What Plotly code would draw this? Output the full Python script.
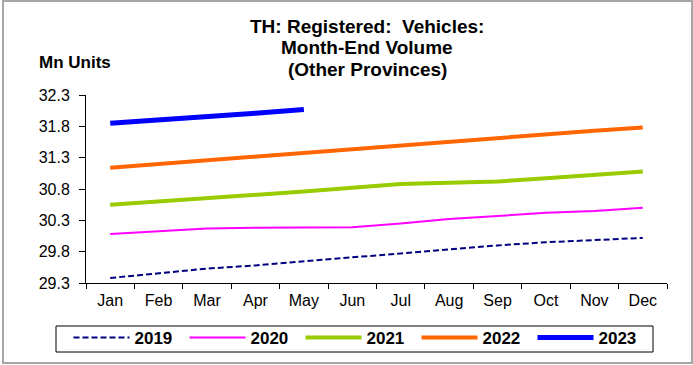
import plotly.graph_objects as go

# Month-end registered vehicles, other provinces (million units)
months = ["Jan", "Feb", "Mar", "Apr", "May", "Jun",
          "Jul", "Aug", "Sep", "Oct", "Nov", "Dec"]

v2019 = [29.38, 29.45, 29.53, 29.58, 29.65, 29.71,
         29.77, 29.84, 29.90, 29.95, 29.98, 30.02]
v2020 = [30.08, 30.13, 30.17, 30.18, 30.18, 30.19,
         30.25, 30.32, 30.37, 30.42, 30.45, 30.50]
v2021 = [30.55, 30.60, 30.65, 30.71, 30.76, 30.82,
         30.88, 30.90, 30.92, 30.97, 31.02, 31.08]
v2022 = [31.14, 31.20, 31.26, 31.31, 31.37, 31.44,
         31.50, 31.56, 31.61, 31.67, 31.73, 31.78]
v2023 = [31.85, 31.90, 31.96, 32.01, 32.07]

title_lines = ["TH: Registered:\u00a0 Vehicles:", "Month-End Volume", "(Other Provinces)"]

FONT = "Liberation Sans, Arial, sans-serif"

series = [
    ("2019", v2019, dict(color="#000080", width=2, dash="6px,3px")),
    ("2020", v2020, dict(color="#FF00FF", width=2)),
    ("2021", v2021, dict(color="#99CC00", width=4)),
    ("2022", v2022, dict(color="#FF6600", width=4)),
    ("2023", v2023, dict(color="#0000FF", width=5)),
]

FIG_W, FIG_H = 693, 365
# plot-area geometry in pixels, used to place free text in paper units
L, T, W, H = 86, 95, 581, 188


def px_x(x):
    return (x - L) / W


def px_y(y):
    return (T + H - y) / H


fig = go.Figure()
for name, vals, line in series:
    fig.add_trace(go.Scatter(
        x=months[:len(vals)], y=vals, name=name, mode="lines",
        line=line,
    ))

fig.update_layout(
    width=FIG_W, height=FIG_H,
    margin=dict(l=L, r=FIG_W - L - W, t=T, b=FIG_H - T - H, autoexpand=False),
    paper_bgcolor="white", plot_bgcolor="white",
    font=dict(family=FONT, size=16, color="black"),
    xaxis=dict(
        type="category", range=[-0.5, 11.5],
        showline=True, linecolor="black", linewidth=1,
        ticks="outside", tickson="boundaries", ticklen=5,
        tickcolor="black", showgrid=False, zeroline=False,
        tickfont=dict(size=16), ticklabelstandoff=3,
    ),
    yaxis=dict(
        range=[29.3, 32.3], tick0=29.3, dtick=0.5, tickformat=".1f",
        showline=True, linecolor="black", linewidth=1,
        ticks="outside", ticklen=6, tickcolor="black",
        ticklabelstandoff=6,
        showgrid=False, zeroline=False, tickfont=dict(size=16),
    ),
    legend=dict(
        orientation="h",
        xref="container", x=358.5 / FIG_W, xanchor="center",
        yref="container", y=1 - 320 / FIG_H, yanchor="top",
        bgcolor="rgba(0,0,0,0)", borderwidth=0,
        font=dict(family=FONT, size=17, color="black", weight="bold"),
        itemwidth=56, entrywidth=45,
    ),
    showlegend=True,
)

# three-line bold title
for i, line_text in enumerate(title_lines):
    fig.add_annotation(
        text="<b>" + line_text + "</b>", xref="paper", yref="paper",
        x=px_x(367), y=px_y(26 + i * 21.7), xanchor="center", yanchor="middle",
        showarrow=False, font=dict(family=FONT, size=19, color="black"),
    )

fig.add_annotation(
    text="<b>Mn Units</b>", xref="paper", yref="paper",
    x=px_x(37), y=px_y(63), xanchor="left", yanchor="middle",
    showarrow=False, font=dict(family=FONT, size=17, color="black"),
)

# legend frame
fig.add_shape(
    type="rect", xref="paper", yref="paper",
    x0=px_x(56), x1=px_x(653),
    y0=px_y(352), y1=px_y(326),
    line=dict(color="black", width=1), layer="below",
)

# outer frame around the whole chart
fig.add_shape(
    type="rect", xref="paper", yref="paper",
    x0=px_x(3), x1=px_x(692),
    y0=px_y(363), y1=px_y(1),
    line=dict(color="#A6A6A6", width=2), layer="below",
)

fig.write_html("out.html")
